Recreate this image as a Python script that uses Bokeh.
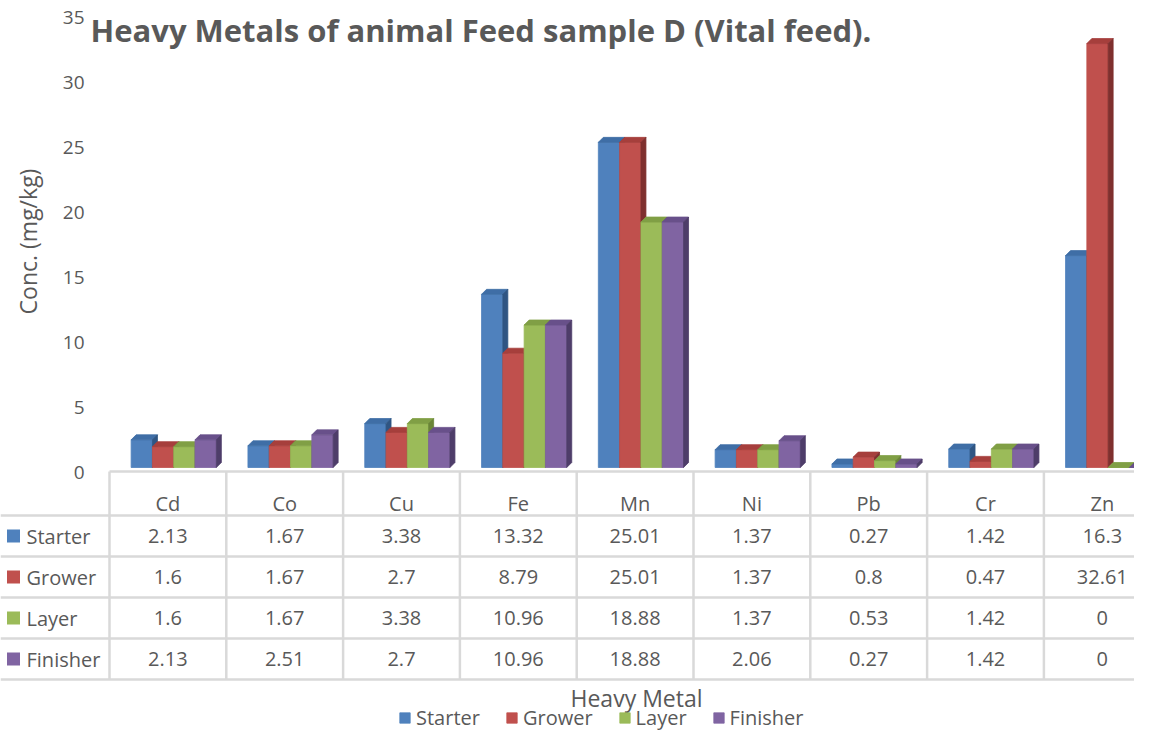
import math
from bokeh.plotting import figure
from bokeh.models import Range1d, Legend, LegendItem
from bokeh.embed import file_html
from bokeh.resources import INLINE
from bokeh.core.properties import value

# ---------------- data ----------------
categories = ["Cd", "Co", "Cu", "Fe", "Mn", "Ni", "Pb", "Cr", "Zn"]
series_names = ["Starter", "Grower", "Layer", "Finisher"]
starter = [2.13, 1.67, 3.38, 13.32, 25.01, 1.37, 0.27, 1.42, 16.3]
grower = [1.6, 1.67, 2.7, 8.79, 25.01, 1.37, 0.8, 0.47, 32.61]
layer = [1.6, 1.67, 3.38, 10.96, 18.88, 1.37, 0.53, 1.42, 0]
finisher = [2.13, 2.51, 2.7, 10.96, 18.88, 2.06, 0.27, 1.42, 0]
y_ticks = [0, 5, 10, 15, 20, 25, 30, 35]
title_text = "Heavy Metals of animal Feed sample D (Vital feed)."
x_title = "Heavy Metal"
y_title = "Conc. (mg/kg)"

series_values = [starter, grower, layer, finisher]

# ---------------- styles ----------------
front_colors = ["#4F81BD", "#C0504D", "#9BBB59", "#8064A2"]
top_colors = ["#3F6EA6", "#A63F3C", "#809F45", "#68508A"]
side_colors = ["#2F5583", "#7F302E", "#6A8537", "#4E3D69"]
TEXT = "#595959"
GRID = "#D9D9D9"
FONT = "Open Sans"

# ---------------- geometry (canvas pixels -> data units) ----------------
W, H = 1134, 731
CAT_PX = 116.8      # pixels per category cell
VAL_PX = 13.0       # pixels per value unit
X0 = 109            # canvas x of first category boundary
Y0 = 467            # canvas y of value zero


def fx(px):
    return (px - X0) / CAT_PX


def fy(py):
    return (Y0 - py) / VAL_PX


p = figure(width=W, height=H, output_backend="svg", toolbar_location=None,
           x_axis_type=None, y_axis_type=None,
           x_range=Range1d(fx(0), fx(W)),
           y_range=Range1d(fy(H), fy(0)))
p.min_border = 0
p.min_border_left = 0
p.min_border_right = 0
p.min_border_top = 0
p.min_border_bottom = 0
p.outline_line_color = None
p.background_fill_color = "white"
p.border_fill_color = "white"

n = len(categories)
bw = 21.3 / CAT_PX
off = 0.05
dx = 5.0 / CAT_PX
dy = 5.0 / VAL_PX

# ---------------- 3D-looking bars ----------------
front_renderers = []
for j, vals in enumerate(series_values):
    lefts = [i + 0.5 + off + (j - 2) * bw for i in range(n)]
    rights = [l + bw for l in lefts]
    r = p.quad(left=lefts, right=rights, bottom=[0] * n, top=vals,
               fill_color=front_colors[j], line_color=front_colors[j], line_width=0.8)
    front_renderers.append(r)
    top_xs = [[l, rr, rr + dx, l + dx] for l, rr in zip(lefts, rights)]
    top_ys = [[v, v, v + dy, v + dy] for v in vals]
    p.patches(top_xs, top_ys, fill_color=top_colors[j], line_color=top_colors[j], line_width=0.8)
    side_xs = [[rr, rr + dx, rr + dx, rr] for rr in rights]
    side_ys = [[0, dy, v + dy, v] for v in vals]
    p.patches(side_xs, side_ys, fill_color=side_colors[j], line_color=side_colors[j], line_width=0.8)

# ---------------- y tick labels ----------------
p.text(x=[fx(84)] * len(y_ticks), y=y_ticks, text=[str(t) for t in y_ticks],
       text_align="right", text_baseline="middle", y_offset=5,
       text_font=value(FONT), text_font_size="19px", text_color=TEXT)

# ---------------- data table ----------------
x_left = fx(0)
x_right = fx(W)
header_top = fy(471)
row_lines_px = [515, 556, 597, 638, 679]
row_lines = [fy(v) for v in row_lines_px]

# horizontal lines
hx0 = [fx(X0)] + [x_left] * len(row_lines)
hx1 = [x_right] * (len(row_lines) + 1)
hy = [header_top] + row_lines
p.segment(x0=hx0, y0=hy, x1=hx1, y1=hy, line_color=GRID, line_width=2.5)
# vertical lines
vx = list(range(n + 1))
p.segment(x0=vx, y0=[header_top] * len(vx), x1=vx, y1=[row_lines[-1]] * len(vx),
          line_color=GRID, line_width=2.5)

# header row: category names
p.text(x=[i + 0.5 for i in range(n)], y=[fy(503)] * n, text=categories,
       text_align="center", text_baseline="middle",
       text_font=value(FONT), text_font_size="20px", text_color=TEXT)

# value rows
for j, vals in enumerate(series_values):
    yc = (row_lines[j] + row_lines[j + 1]) / 2
    p.text(x=[i + 0.5 for i in range(n)], y=[yc] * n, text=[f"{v:g}" for v in vals],
           text_align="center", text_baseline="middle",
           text_font=value(FONT), text_font_size="20px", text_color=TEXT)
    p.scatter(x=[fx(13)], y=[yc], marker="square", size=13,
              fill_color=front_colors[j], line_color=None)
    p.text(x=[fx(26)], y=[yc], text=[series_names[j]],
           text_align="left", text_baseline="middle",
           text_font=value(FONT), text_font_size="20px", text_color=TEXT)

# ---------------- titles ----------------
p.text(x=[fx(90)], y=[fy(29)], text=[title_text], text_align="left",
       text_baseline="alphabetic", text_font=value(FONT), text_font_size="31px",
       text_font_style="bold", text_color=TEXT)
p.text(x=[fx(636)], y=[fy(697)], text=[x_title], text_align="center",
       text_baseline="middle", text_font=value(FONT), text_font_size="23px",
       text_color=TEXT)
p.text(x=[fx(27.5)], y=[fy(241)], text=[y_title], text_align="center",
       text_baseline="middle", angle=math.pi / 2, text_font=value(FONT),
       text_font_size="23px", text_color=TEXT)

# ---------------- legend ----------------
legend_center_y = 718
legend_h = 26
legend = Legend(items=[LegendItem(label=name, renderers=[r])
                       for name, r in zip(series_names, front_renderers)],
                orientation="horizontal",
                location=(398, H - legend_center_y - legend_h / 2),
                glyph_width=13, glyph_height=13, label_standoff=5, spacing=25,
                padding=0, margin=0, border_line_color=None,
                background_fill_alpha=0,
                label_text_font=FONT, label_text_font_size="20px",
                label_text_color=TEXT)
p.add_layout(legend)

open("out.html", "w").write(file_html(p, INLINE))
